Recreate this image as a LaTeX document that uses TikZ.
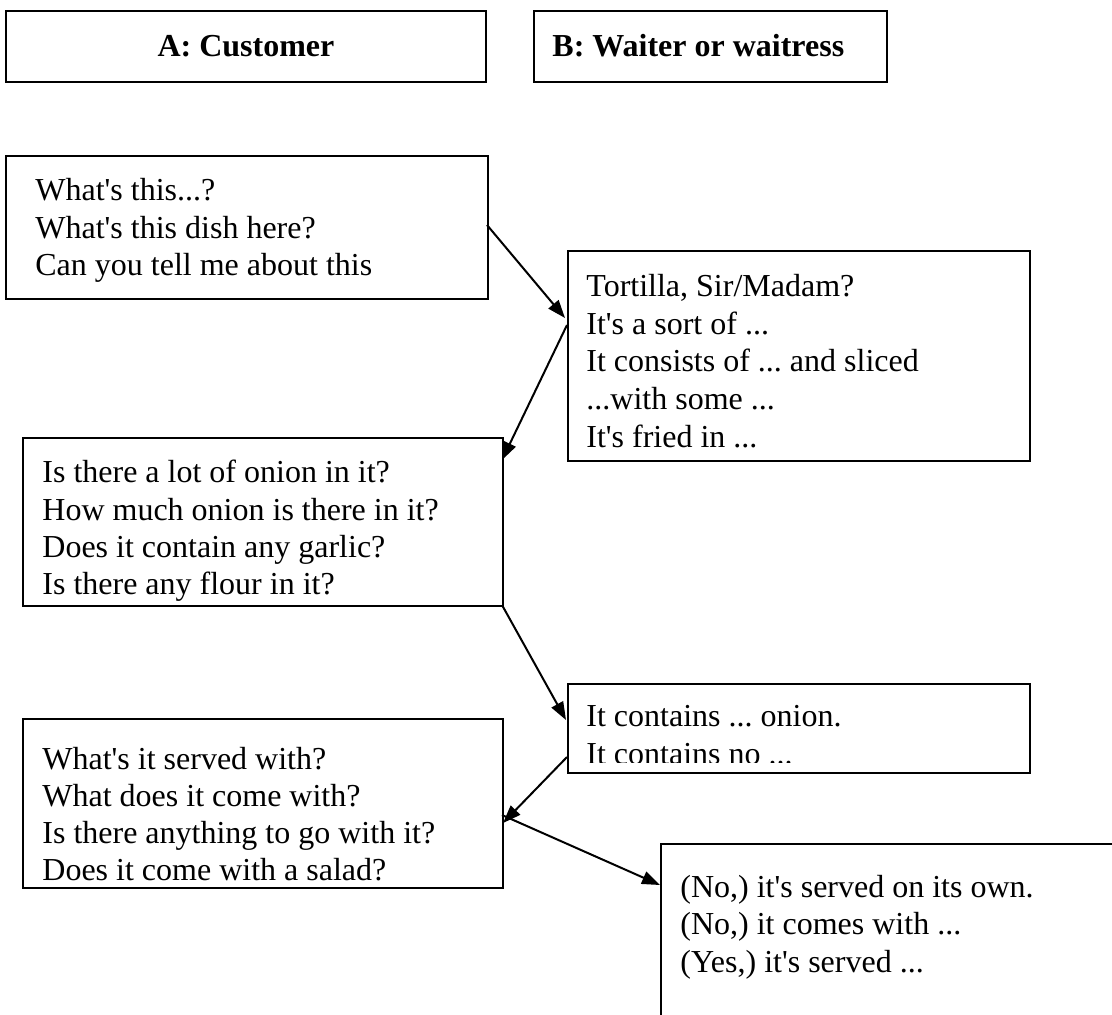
\documentclass[tikz,border=0pt]{standalone}
\usepackage{fontspec}
\setmainfont{Liberation Serif}
\usetikzlibrary{arrows.meta}
\newcommand{\ap}{\textquotesingle}
\begin{document}
\frenchspacing
\begin{tikzpicture}[x=0.5pt,y=-0.5pt,
  box/.style={draw, line width=1pt, inner sep=0pt, anchor=north west},
  ln/.style={anchor=base west, inner sep=0pt, font=\fontsize{16}{19}\selectfont},
  hd/.style={inner sep=0pt, font=\fontsize{16}{19}\selectfont\bfseries},
  arr/.style={line width=1pt, -{Triangle[length=9pt,width=6.5pt]}}]
\useasboundingbox (0,0) rectangle (1112,1014);
% headers
\node[box, minimum width=240pt, minimum height=35.5pt] (ha) at (5,10) {};
\node[hd] (hat) at (ha.center) {A: Customer};
\node[box, minimum width=176.5pt, minimum height=35.5pt] (hb) at (533,10) {};
\node[hd, anchor=west] (hbt) at (552,46) {B: Waiter or waitress};
% box 1
\node[box, minimum width=241pt, minimum height=71.5pt] (b1) at (5,155) {};
\node[ln] (b1a) at (35,200) {What\ap s this...?};
\node[ln] (b1b) at (35,238) {What\ap s this dish here?};
\node[ln] (b1c) at (35,275) {Can you tell me about this};
% box 2
\node[box, minimum width=231pt, minimum height=105pt] (b2) at (567,250) {};
\node[ln] (b2a) at (586,296) {Tortilla, Sir/Madam?};
\node[ln] (b2b) at (586,334) {It\ap s a sort of ...};
\node[ln] (b2c) at (586,371) {It consists of ... and sliced};
\node[ln] (b2d) at (586,409) {...with some ...};
\node[ln] (b2e) at (586,447) {It\ap s fried in ...};
% box 3
\node[box, minimum width=240pt, minimum height=84pt] (b3) at (22,437) {};
\node[ln] (b3a) at (42,482) {Is there a lot of onion in it?};
\node[ln] (b3b) at (42,520) {How much onion is there in it?};
\node[ln] (b3c) at (42,557) {Does it contain any garlic?};
\node[ln] (b3d) at (42,594) {Is there any flour in it?};
% box 4
\node[box, minimum width=231pt, minimum height=44.5pt] (b4) at (567,683) {};
\node[ln] (b4a) at (586,726) {It contains ... onion.};
\begin{scope}
\clip (567,683) rectangle (1029,762);
\node[ln] (b4b) at (586,764) {It contains no ...};
\end{scope}
% box 5
\node[box, minimum width=240pt, minimum height=84.5pt] (b5) at (22,718) {};
\node[ln] (b5a) at (42,769) {What\ap s it served with?};
\node[ln] (b5b) at (42,806) {What does it come with?};
\node[ln] (b5c) at (42,843) {Is there anything to go with it?};
\node[ln] (b5d) at (42,880) {Does it come with a salad?};
% box 6 (runs off the page)
\node[box, minimum width=240pt, minimum height=100pt] (b6) at (660,843) {};
\node[ln] (b6a) at (680,897) {(No,) it\ap s served on its own.};
\node[ln] (b6b) at (680,934) {(No,) it comes with ...};
\node[ln] (b6c) at (680,972) {(Yes,) it\ap s served ...};
% connector end points on the box edges
\coordinate (a1s) at (487,225);
\coordinate (a1e) at (565,318);
\coordinate (a2s) at (567,325);
\coordinate (a2e) at (502,460);
\coordinate (a3s) at (502,605);
\coordinate (a3e) at (566,720);
\coordinate (a4s) at (567,757);
\coordinate (a4e) at (503,823);
\coordinate (a5s) at (502,815);
\coordinate (a5e) at (660,885);
\draw[arr] (a1s) -- (a1e);
\draw[arr] (a2s) -- (a2e);
\draw[arr] (a3s) -- (a3e);
\draw[arr] (a4s) -- (a4e);
\draw[arr] (a5s) -- (a5e);
\end{tikzpicture}
\end{document}
